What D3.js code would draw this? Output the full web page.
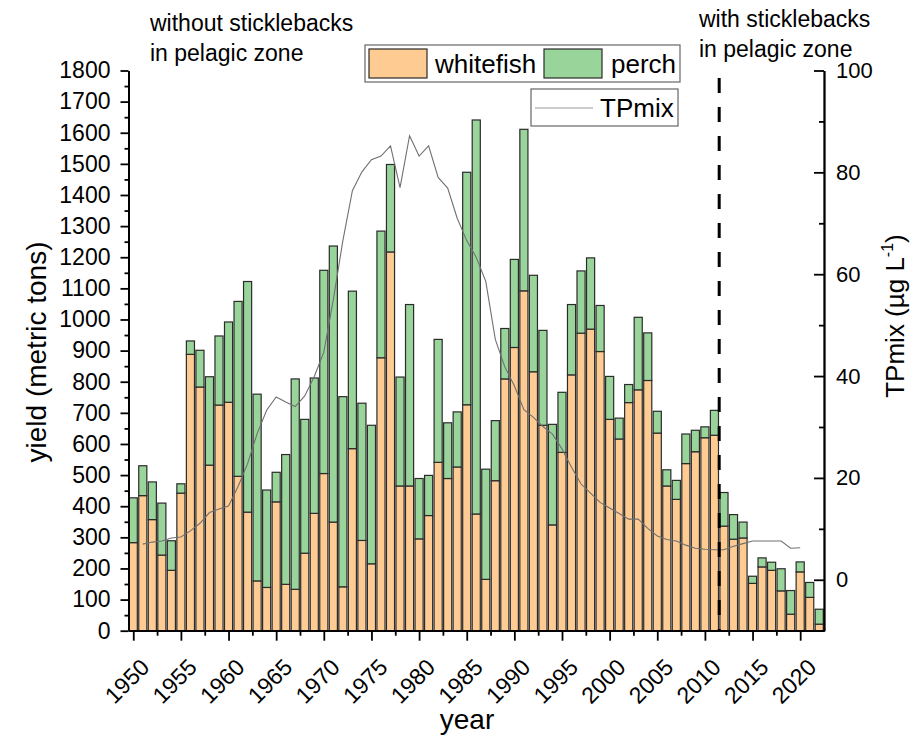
<!DOCTYPE html>
<html>
<head>
<meta charset="utf-8">
<script src="https://cdn.jsdelivr.net/npm/d3@7/dist/d3.min.js"></script>
<style>
  html, body { margin: 0; padding: 0; background: #fff; }
  svg { display: block; font-family: "Liberation Sans", Arial, sans-serif; }
</style>
</head>
<body>
<svg id="chart" width="915" height="737"></svg>
<script>
// Annual yield (metric tons) by species, 1950–2022
const years = d3.range(1950, 2023);
const whitefish = [283,434,357,243,194,442,888,783,532,725,
                   734,496,381,160,139,414,149,133,249,377,
                   505,349,141,585,290,215,877,1217,465,465,
                   295,370,541,489,526,726,375,165,482,809,
                   910,1092,832,660,340,573,822,956,969,897,
                   679,616,733,774,804,635,465,422,537,575,
                   620,628,336,294,298,152,205,194,128,53,
                   189,107,21];
const perch = [144,96,121,167,95,30,43,118,284,222,
               258,562,741,600,313,95,417,676,430,435,
               653,887,611,506,441,445,407,281,350,583,
               194,129,395,179,177,747,1266,354,193,162,
               283,519,310,305,323,193,226,200,229,148,
               138,67,58,233,153,70,52,61,95,69,
               35,80,108,79,51,23,29,26,71,76,
               32,48,48];

// Mixed-layer total phosphorus (µg/L), 1951–2020
const tpYears = d3.range(1951, 2021);
const tpMix = [7.0,7.4,7.6,8.2,8.4,9.6,11.1,13.2,13.9,
               14.5,18.3,22.8,28.7,33.3,35.9,34.9,34.0,36.1,39.9,
               44.7,55.0,66.6,76.4,80.1,82.5,83.2,85.2,77.0,87.2,
               83.2,85.2,79.0,76.9,71.0,66.6,63.3,58.6,47.2,41.8,
               38.1,33.4,31.9,30.1,28.6,25.7,22.1,18.8,17.0,15.2,
               14.1,13.0,11.9,11.9,10.1,8.6,7.9,7.6,6.8,6.2,
               6.0,5.9,5.9,6.6,7.1,7.6,7.6,7.6,7.6,6.2,6.3];

const yTicks = d3.range(0, 1801, 100);
const yMinor = d3.range(50, 1800, 100);
const xTicks = d3.range(1950, 2021, 5);
const xMinor = d3.range(1952.5, 2022, 5);
const y2Ticks = d3.range(0, 101, 20);
const y2Minor = d3.range(10, 100, 20);
const stickleYear = 2011.5;

const svg = d3.select("#chart");
const plotL = 128.5, plotR = 824, plotT = 70.5, plotB = 630.7;

const x = d3.scaleLinear().domain([1949.5, 2022.5]).range([plotL, plotR]);
const y = d3.scaleLinear().domain([0, 1800]).range([plotB, plotT]);
const y2 = d3.scaleLinear().domain([-10, 100]).range([plotB, plotT]);

const colors = { whitefish: "#FECB92", perch: "#99D59B" };
const barW = (x(1) - x(0)) * 0.85;

// stacked bars
const table = years.map((yr, i) => ({ year: yr, whitefish: whitefish[i], perch: perch[i] }));
const stacked = d3.stack().keys(["whitefish", "perch"])(table);

svg.append("g").selectAll("g")
  .data(stacked).join("g")
    .attr("fill", d => colors[d.key])
  .selectAll("rect")
  .data(d => d).join("rect")
    .attr("x", d => x(d.data.year) - barW / 2)
    .attr("width", barW)
    .attr("y", d => y(d[1]))
    .attr("height", d => y(d[0]) - y(d[1]))
    .attr("stroke", "#2b2b2b")
    .attr("stroke-width", 1.2);

// TPmix line on the right axis
const line = d3.line().x(d => x(d[0])).y(d => y2(d[1]));
svg.append("path")
  .datum(tpYears.map((yr, i) => [yr, tpMix[i]]))
  .attr("d", line)
  .attr("fill", "none")
  .attr("stroke", "#707070")
  .attr("stroke-width", 1.1);

// dashed divider: stickleback arrival
svg.append("line")
  .attr("x1", x(stickleYear)).attr("x2", x(stickleYear))
  .attr("y1", 78).attr("y2", plotB)
  .attr("stroke", "#000").attr("stroke-width", 3)
  .attr("stroke-dasharray", "15,14");

// axes
function styleAxis(g, size) {
  g.selectAll("path, line").attr("stroke", "#000").attr("stroke-width", 1.8);
  g.selectAll("text").attr("fill", "#000").attr("font-size", size || 22)
    .attr("font-family", '"Liberation Sans", Arial, sans-serif');
}
const fmt = d3.format("d");

const gy = svg.append("g").attr("transform", `translate(${plotL},0)`)
  .call(d3.axisLeft(y).tickValues(yTicks).tickSize(8).tickSizeOuter(0).tickPadding(10).tickFormat(fmt));
styleAxis(gy, 23);
const gyMinor = svg.append("g").attr("transform", `translate(${plotL},0)`)
  .call(d3.axisLeft(y).tickValues(yMinor).tickSize(4).tickSizeOuter(0).tickFormat(""));
styleAxis(gyMinor);

const gy2 = svg.append("g").attr("transform", `translate(${plotR},0)`)
  .call(d3.axisRight(y2).tickValues(y2Ticks).tickSize(-10).tickSizeOuter(0).tickPadding(12).tickFormat(fmt));
styleAxis(gy2, 22);
const gy2Minor = svg.append("g").attr("transform", `translate(${plotR},0)`)
  .call(d3.axisRight(y2).tickValues(y2Minor).tickSize(-5).tickSizeOuter(0).tickFormat(""));
styleAxis(gy2Minor);

const gx = svg.append("g").attr("transform", `translate(0,${plotB})`)
  .call(d3.axisBottom(x).tickValues(xTicks).tickSize(10).tickSizeOuter(0).tickFormat(fmt));
styleAxis(gx, 23);
gx.selectAll("text")
  .attr("x", 0).attr("y", 0).attr("dy", 0)
  .attr("text-anchor", "end")
  .attr("transform", "translate(17,38) rotate(-45)");
const gxMinor = svg.append("g").attr("transform", `translate(0,${plotB})`)
  .call(d3.axisBottom(x).tickValues(xMinor).tickSize(5).tickSizeOuter(0).tickFormat(""));
styleAxis(gxMinor);

// axis titles
svg.append("text")
  .attr("transform", "translate(46,352) rotate(-90)")
  .attr("text-anchor", "middle").attr("font-size", 28)
  .text("yield (metric tons)");

svg.append("text")
  .attr("x", 467).attr("y", 729)
  .attr("text-anchor", "middle").attr("font-size", 28)
  .text("year");

const rt = svg.append("text")
  .attr("transform", "translate(904,316) rotate(-90)")
  .attr("text-anchor", "middle").attr("font-size", 26);
rt.append("tspan").text("TPmix (µg L");
rt.append("tspan").attr("font-size", 16).attr("dy", -11).text("-1");
rt.append("tspan").attr("dy", 11).text(")");

// period annotations
const noteL = svg.append("text").attr("font-size", 23);
noteL.append("tspan").attr("x", 150).attr("y", 31).text("without sticklebacks");
noteL.append("tspan").attr("x", 150).attr("y", 61).text("in pelagic zone");
const noteR = svg.append("text").attr("font-size", 23);
noteR.append("tspan").attr("x", 699).attr("y", 27).text("with sticklebacks");
noteR.append("tspan").attr("x", 699).attr("y", 57).text("in pelagic zone");

// legend: species
const leg = svg.append("g");
leg.append("rect").attr("x", 365).attr("y", 45).attr("width", 315).attr("height", 37)
  .attr("fill", "#fff").attr("stroke", "#666").attr("stroke-width", 1.2);
[["whitefish", 369, 435], ["perch", 544, 611]].forEach(([key, sx, tx]) => {
  leg.append("rect").attr("x", sx).attr("y", 49).attr("width", 58).attr("height", 29)
    .attr("fill", colors[key]).attr("stroke", "#2b2b2b").attr("stroke-width", 1.2);
  leg.append("text").attr("x", tx).attr("y", 73).attr("font-size", 26).text(key);
});

// legend: TPmix
leg.append("rect").attr("x", 531).attr("y", 89).attr("width", 147).attr("height", 37)
  .attr("fill", "#fff").attr("stroke", "#666").attr("stroke-width", 1.2);
leg.append("line").attr("x1", 535).attr("x2", 593).attr("y1", 108).attr("y2", 108)
  .attr("stroke", "#9a9a9a").attr("stroke-width", 1.2);
leg.append("text").attr("x", 600).attr("y", 117).attr("font-size", 26).text("TPmix");
</script>
</body>
</html>
